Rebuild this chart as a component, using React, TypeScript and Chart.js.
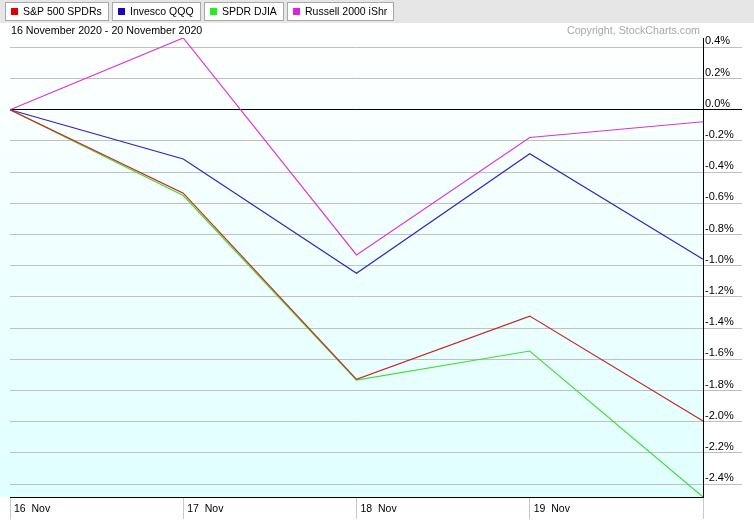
import React, { useEffect, useRef } from 'react';
import { Chart, registerables } from 'chart.js';
Chart.register(...registerables);

const dayLabels = ['16  Nov', '17  Nov', '18  Nov', '19  Nov', '20  Nov'];
const spdrSP500 = [0, -0.535, -1.729, -1.323, -1.995];
const invescoQQQ = [0, -0.316, -1.049, -0.282, -0.959];
const spdrDJIA = [0, -0.55, -1.734, -1.547, -2.483];
const russell2000 = [0, 0.46, -0.931, -0.178, -0.077];
const seriesNames = ['S&P 500 SPDRs', 'Invesco QQQ', 'SPDR DJIA', 'Russell 2000 iShr'];
const lineColors = ['#cc2222', '#3322bb', '#44dd33', '#dd33dd'];
const legendColors = ['#e00000', '#2200c0', '#22ee22', '#e020e0'];
const titleText = '16 November 2020 - 20 November 2020';
const copyrightText = 'Copyright, StockCharts.com';
const yStep = 0.2;

const FONT = "'Liberation Sans', Arial, sans-serif";

const decorPlugin = {
  id: 'decor',
  beforeDraw(chart: any) {
    const { ctx, chartArea: a, width, height } = chart;
    ctx.save();
    ctx.fillStyle = '#ffffff';
    ctx.fillRect(0, 0, width, height);
    const g = ctx.createLinearGradient(0, 23, 0, a.bottom);
    g.addColorStop(0, '#ffffff');
    g.addColorStop(1, '#e0ffff');
    ctx.fillStyle = g;
    ctx.fillRect(0, 23, a.right, a.bottom - 23);
    ctx.restore();
  },
  afterDraw(chart: any) {
    const { ctx, width } = chart;
    ctx.save();
    // header band
    ctx.fillStyle = '#e6e6e6';
    ctx.fillRect(0, 0, width, 23);
    ctx.font = `10.5px ${FONT}`;
    ctx.textBaseline = 'middle';
    ctx.textAlign = 'left';
    let x = 5;
    seriesNames.forEach((name, i) => {
      const tw = ctx.measureText(name).width;
      const w = Math.round(18 + tw + 7);
      ctx.fillStyle = '#ffffff';
      ctx.fillRect(x, 2, w, 19);
      ctx.strokeStyle = '#a8a8a8';
      ctx.lineWidth = 1;
      ctx.strokeRect(x + 0.5, 2.5, w - 1, 18);
      ctx.fillStyle = legendColors[i];
      ctx.fillRect(x + 6, 8, 7, 7);
      ctx.fillStyle = '#000000';
      ctx.fillText(name, x + 18, 12);
      x += w + 3;
    });
    // title and copyright
    ctx.font = `10.7px ${FONT}`;
    ctx.fillStyle = '#000000';
    ctx.fillText(titleText, 11, 31.5);
    ctx.textAlign = 'right';
    ctx.fillStyle = '#a8a8a8';
    ctx.fillText(copyrightText, 700, 31);
    ctx.restore();
  },
};

export default function App() {
  const ref = useRef<HTMLCanvasElement>(null);
  useEffect(() => {
    document.body.style.margin = '0';
    const allValues = [...spdrSP500, ...invescoQQQ, ...spdrDJIA, ...russell2000];
    const yMin = Math.min(...allValues);
    const yMax = Math.max(...allValues);
    const seriesData = [spdrSP500, invescoQQQ, spdrDJIA, russell2000];
    const gridColor = (c: any) =>
      c.tick && Math.abs(c.tick.value) < 1e-9 ? '#000000' : '#c0c0c0';
    const chart = new Chart(ref.current as HTMLCanvasElement, {
      type: 'line',
      data: {
        labels: dayLabels,
        datasets: seriesData.map((d, i) => ({
          label: seriesNames[i],
          data: d,
          borderColor: lineColors[i],
          backgroundColor: lineColors[i],
          borderWidth: 1.2,
          pointRadius: 0,
          tension: 0,
          fill: false,
        })),
      },
      options: {
        responsive: false,
        animation: false,
        layout: { padding: { left: 10, top: 38, right: 0, bottom: 0 } },
        plugins: {
          legend: { display: false },
          tooltip: { enabled: false },
          title: { display: false },
        },
        scales: {
          x: {
            type: 'category',
            offset: false,
            grid: {
              drawOnChartArea: false,
              drawTicks: true,
              tickLength: 22,
              color: '#c8c8c8',
            },
            border: { display: true, color: '#000000', width: 1 },
            ticks: {
              autoSkip: false,
              maxRotation: 0,
              minRotation: 0,
              align: 'start',
              labelOffset: 4,
              padding: -16,
              color: '#000000',
              font: { family: FONT, size: 10.5 },
              callback: (_v: any, i: number) =>
                i === dayLabels.length - 1 ? '' : dayLabels[i],
            },
            afterFit: (s: any) => {
              s.height = 27;
            },
          },
          y: {
            position: 'right',
            min: yMin,
            max: yMax,
            grid: {
              color: gridColor,
              tickColor: gridColor,
              tickLength: 39,
              drawTicks: true,
              drawOnChartArea: true,
            },
            border: { display: true, color: '#000000', width: 1 },
            ticks: {
              stepSize: yStep,
              includeBounds: false,
              padding: -37,
              labelOffset: -6,
              color: '#000000',
              font: { family: FONT, size: 11 },
              callback: (v: any) =>
                Math.abs(Number(v)) < 1e-9 ? '0.0%' : Number(v).toFixed(1) + '%',
            },
            afterFit: (s: any) => {
              s.width = 51;
            },
          },
        },
      } as any,
      plugins: [decorPlugin],
    });
    return () => chart.destroy();
  }, []);
  return (
    <div style={{ width: 754, height: 524 }}>
      <canvas ref={ref} width={754} height={524} style={{ display: 'block' }} />
    </div>
  );
}
